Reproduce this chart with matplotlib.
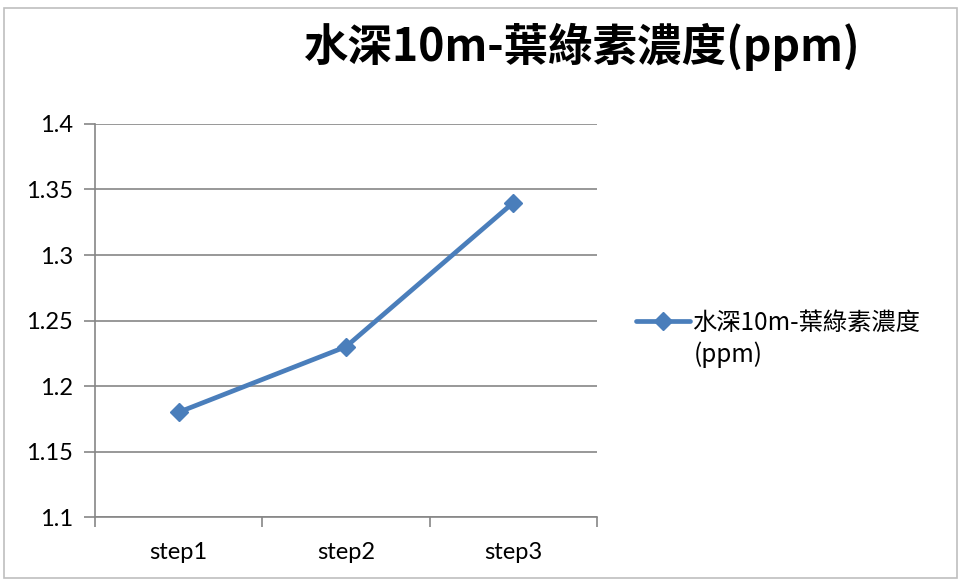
import matplotlib
matplotlib.use("Agg")
import matplotlib.pyplot as plt
from matplotlib.patches import Rectangle
from matplotlib.ticker import FixedLocator, NullFormatter

plt.rcParams["font.family"] = ["Lato", "Noto Sans CJK TC", "DejaVu Sans"]

# chlorophyll concentration at 10 m depth
steps = ["step1", "step2", "step3"]
chlorophyll = [1.18, 1.23, 1.34]
y_ticks = [1.1, 1.15, 1.2, 1.25, 1.3, 1.35, 1.4]
y_labels = ["1.1", "1.15", "1.2", "1.25", "1.3", "1.35", "1.4"]
series_label = "水深10m-葉綠素濃度"
series_unit = "(ppm)"
title = "水深10m-葉綠素濃度(ppm)"

blue = "#4A7EBB"
grid_gray = "#868686"
cjk = ["Noto Sans CJK TC", "DejaVu Sans"]

fig = plt.figure(figsize=(9.6, 5.8), dpi=100)
# chart frame
fig.patches.append(Rectangle((4 / 960, 2 / 580), 953 / 960, 570 / 580,
                             transform=fig.transFigure, fill=False,
                             edgecolor="#BFBFBF", linewidth=1.2))

ax = fig.add_axes([95 / 960, 1 - 517 / 580, (597 - 95) / 960, (517 - 124) / 580])
x = list(range(1, len(steps) + 1))
line, = ax.plot(x, chlorophyll, color=blue, linewidth=3.4, marker="D",
                markersize=9, markerfacecolor=blue, markeredgecolor=blue,
                label=series_label, solid_capstyle="round", zorder=3)

ax.set_xlim(0.5, len(steps) + 0.5)
ax.set_ylim(1.1, 1.4)
ax.set_yticks(y_ticks)
ax.set_yticklabels(y_labels)
ax.yaxis.grid(True, color=grid_gray, linewidth=1.2)
ax.set_axisbelow(True)

ax.set_xticks(x)
ax.set_xticklabels(steps)
ax.xaxis.set_minor_locator(FixedLocator([i + 0.5 for i in range(len(steps) + 1)]))
ax.xaxis.set_minor_formatter(NullFormatter())
ax.tick_params(axis="x", which="major", length=0, pad=18, labelsize=17)
ax.tick_params(axis="x", which="minor", length=7, width=1.2, color=grid_gray)
ax.tick_params(axis="y", length=8, width=1.2, color=grid_gray, pad=8, labelsize=17)

for side in ["top", "right"]:
    ax.spines[side].set_visible(False)
for side in ["left", "bottom"]:
    ax.spines[side].set_color(grid_gray)
    ax.spines[side].set_linewidth(1.2)

fig.text(581 / 960, 1 - 47 / 580, title, ha="center", va="center",
         fontsize=32, fontweight="bold", family=cjk)

# legend entry, with the unit wrapped onto a second line
leg = fig.legend(handles=[line], loc="center left",
                 bbox_to_anchor=(624 / 960, 1 - 323 / 580), frameon=False,
                 handlelength=2.2, handletextpad=0.1, borderpad=0,
                 prop={"family": cjk, "size": 17.5})
fig.text(694 / 960, 1 - 355 / 580, series_unit, ha="left", va="center",
         fontsize=17.5, family=cjk)

fig.savefig("out.png", dpi=100)
